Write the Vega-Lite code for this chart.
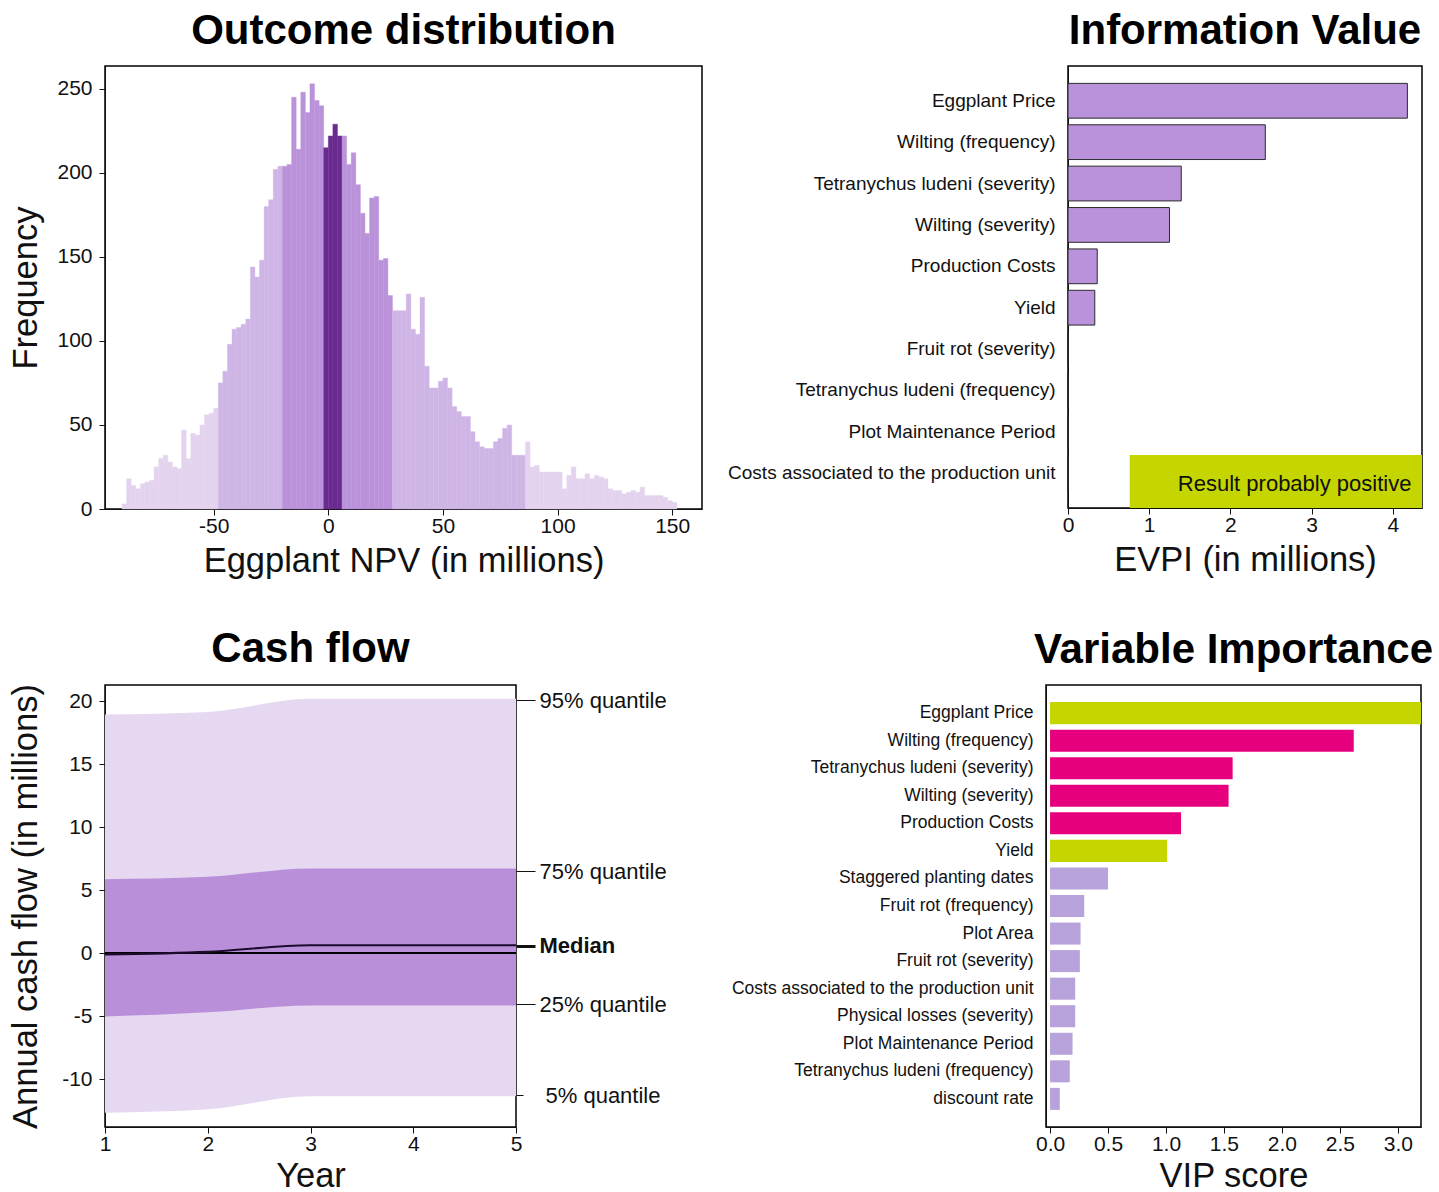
{
  "$schema": "https://vega.github.io/schema/vega-lite/v6.json",
  "padding": {"left": 7, "top": 9, "right": 0, "bottom": 0},
  "background": "white",
  "spacing": 47,
  "resolve": {"scale": {"fill": "independent", "stroke": "independent"}},
  "config": {
    "font": "Liberation Sans",
    "view": {"stroke": "black", "strokeWidth": 1.5},
    "axis": {"labelFont": "Liberation Sans", "titleFont": "Liberation Sans", "labelColor": "#111", "titleColor": "#111", "tickColor": "#111", "domainColor": "#111", "grid": false, "titleFontWeight": "normal", "labelFontSize": 21, "titleFontSize": 34.5, "tickSize": 6, "labelLimit": 500, "labelFlush": false, "labelOverlap": false},
    "title": {"font": "Liberation Sans", "fontSize": 42, "fontWeight": "bold", "color": "black", "anchor": "middle", "frame": "group", "baseline": "alphabetic", "offset": 13}
  },
  "vconcat": [
    {
      "spacing": 23,
      "resolve": {"scale": {"fill": "independent", "stroke": "independent"}},
      "hconcat": [
        {
          "width": 597,
          "height": 443,
          "title": {"text": "Outcome distribution"},
          "data": {"values": [
            {"lo":-90,"hi":-88,"n":3,"b":"tail"},{"lo":-88,"hi":-86,"n":18,"b":"tail"},{"lo":-86,"hi":-84,"n":14,"b":"tail"},{"lo":-84,"hi":-82,"n":12,"b":"tail"},{"lo":-82,"hi":-80,"n":15,"b":"tail"},{"lo":-80,"hi":-78,"n":16,"b":"tail"},{"lo":-78,"hi":-76,"n":17,"b":"tail"},{"lo":-76,"hi":-74,"n":25,"b":"tail"},{"lo":-74,"hi":-72,"n":30,"b":"tail"},{"lo":-72,"hi":-70,"n":32,"b":"tail"},{"lo":-70,"hi":-68,"n":28,"b":"tail"},{"lo":-68,"hi":-66,"n":25,"b":"tail"},{"lo":-66,"hi":-64,"n":24,"b":"tail"},{"lo":-64,"hi":-62,"n":47,"b":"tail"},{"lo":-62,"hi":-60,"n":30,"b":"tail"},{"lo":-60,"hi":-58,"n":45,"b":"tail"},{"lo":-58,"hi":-56,"n":44,"b":"tail"},{"lo":-56,"hi":-54,"n":50,"b":"tail"},{"lo":-54,"hi":-52,"n":56,"b":"tail"},{"lo":-52,"hi":-50,"n":57,"b":"tail"},{"lo":-50,"hi":-48,"n":60,"b":"tail"},
            {"lo":-48,"hi":-46,"n":75,"b":"outer"},{"lo":-46,"hi":-44,"n":82,"b":"outer"},{"lo":-44,"hi":-42,"n":98,"b":"outer"},{"lo":-42,"hi":-40,"n":107,"b":"outer"},{"lo":-40,"hi":-38,"n":108,"b":"outer"},{"lo":-38,"hi":-36,"n":110,"b":"outer"},{"lo":-36,"hi":-34,"n":113,"b":"outer"},{"lo":-34,"hi":-32,"n":144,"b":"outer"},{"lo":-32,"hi":-30,"n":138,"b":"outer"},{"lo":-30,"hi":-28,"n":148,"b":"outer"},{"lo":-28,"hi":-26,"n":180,"b":"outer"},{"lo":-26,"hi":-24,"n":184,"b":"outer"},{"lo":-24,"hi":-22,"n":202,"b":"outer"},{"lo":-22,"hi":-20,"n":204,"b":"outer"},
            {"lo":-20,"hi":-18,"n":204,"b":"inner"},{"lo":-18,"hi":-16,"n":205,"b":"inner"},{"lo":-16,"hi":-14,"n":245,"b":"inner"},{"lo":-14,"hi":-12,"n":214,"b":"inner"},{"lo":-12,"hi":-10,"n":248,"b":"inner"},{"lo":-10,"hi":-8,"n":236,"b":"inner"},{"lo":-8,"hi":-6,"n":253,"b":"inner"},{"lo":-6,"hi":-4,"n":243,"b":"inner"},{"lo":-4,"hi":-2,"n":240,"b":"inner"},
            {"lo":-2,"hi":0,"n":215,"b":"median"},{"lo":0,"hi":2,"n":222,"b":"median"},{"lo":2,"hi":4,"n":229,"b":"median"},{"lo":4,"hi":6,"n":222,"b":"median"},
            {"lo":6,"hi":8,"n":222,"b":"inner"},{"lo":8,"hi":10,"n":205,"b":"inner"},{"lo":10,"hi":12,"n":212,"b":"inner"},{"lo":12,"hi":14,"n":193,"b":"inner"},{"lo":14,"hi":16,"n":176,"b":"inner"},{"lo":16,"hi":18,"n":164,"b":"inner"},{"lo":18,"hi":20,"n":185,"b":"inner"},{"lo":20,"hi":22,"n":186,"b":"inner"},{"lo":22,"hi":24,"n":148,"b":"inner"},{"lo":24,"hi":26,"n":149,"b":"inner"},{"lo":26,"hi":28,"n":127,"b":"inner"},
            {"lo":28,"hi":30,"n":118,"b":"outer"},{"lo":30,"hi":32,"n":118,"b":"outer"},{"lo":32,"hi":34,"n":118,"b":"outer"},{"lo":34,"hi":36,"n":128,"b":"outer"},{"lo":36,"hi":38,"n":107,"b":"outer"},{"lo":38,"hi":40,"n":104,"b":"outer"},{"lo":40,"hi":42,"n":126,"b":"outer"},{"lo":42,"hi":44,"n":85,"b":"outer"},{"lo":44,"hi":46,"n":72,"b":"outer"},{"lo":46,"hi":48,"n":72,"b":"outer"},{"lo":48,"hi":50,"n":76,"b":"outer"},{"lo":50,"hi":52,"n":78,"b":"outer"},{"lo":52,"hi":54,"n":72,"b":"outer"},{"lo":54,"hi":56,"n":61,"b":"outer"},{"lo":56,"hi":58,"n":58,"b":"outer"},{"lo":58,"hi":60,"n":55,"b":"outer"},{"lo":60,"hi":62,"n":55,"b":"outer"},{"lo":62,"hi":64,"n":46,"b":"outer"},{"lo":64,"hi":66,"n":40,"b":"outer"},{"lo":66,"hi":68,"n":37,"b":"outer"},{"lo":68,"hi":70,"n":36,"b":"outer"},{"lo":70,"hi":72,"n":36,"b":"outer"},{"lo":72,"hi":74,"n":40,"b":"outer"},{"lo":74,"hi":76,"n":42,"b":"outer"},{"lo":76,"hi":78,"n":48,"b":"outer"},{"lo":78,"hi":80,"n":50,"b":"outer"},{"lo":80,"hi":82,"n":32,"b":"outer"},{"lo":82,"hi":84,"n":32,"b":"outer"},{"lo":84,"hi":86,"n":32,"b":"outer"},
            {"lo":86,"hi":88,"n":40,"b":"tail"},{"lo":88,"hi":90,"n":25,"b":"tail"},{"lo":90,"hi":92,"n":26,"b":"tail"},{"lo":92,"hi":94,"n":22,"b":"tail"},{"lo":94,"hi":96,"n":22,"b":"tail"},{"lo":96,"hi":98,"n":22,"b":"tail"},{"lo":98,"hi":100,"n":22,"b":"tail"},{"lo":100,"hi":102,"n":22,"b":"tail"},{"lo":102,"hi":104,"n":12,"b":"tail"},{"lo":104,"hi":106,"n":20,"b":"tail"},{"lo":106,"hi":108,"n":25,"b":"tail"},{"lo":108,"hi":110,"n":18,"b":"tail"},{"lo":110,"hi":112,"n":18,"b":"tail"},{"lo":112,"hi":114,"n":21,"b":"tail"},{"lo":114,"hi":116,"n":18,"b":"tail"},{"lo":116,"hi":118,"n":20,"b":"tail"},{"lo":118,"hi":120,"n":19,"b":"tail"},{"lo":120,"hi":122,"n":18,"b":"tail"},{"lo":122,"hi":124,"n":12,"b":"tail"},{"lo":124,"hi":126,"n":11,"b":"tail"},{"lo":126,"hi":128,"n":11,"b":"tail"},{"lo":128,"hi":130,"n":9,"b":"tail"},{"lo":130,"hi":132,"n":10,"b":"tail"},{"lo":132,"hi":134,"n":11,"b":"tail"},{"lo":134,"hi":136,"n":10,"b":"tail"},{"lo":136,"hi":138,"n":13,"b":"tail"},{"lo":138,"hi":140,"n":8,"b":"tail"},{"lo":140,"hi":142,"n":8,"b":"tail"},{"lo":142,"hi":144,"n":8,"b":"tail"},{"lo":144,"hi":146,"n":8,"b":"tail"},{"lo":146,"hi":148,"n":7,"b":"tail"},{"lo":148,"hi":150,"n":5,"b":"tail"},{"lo":150,"hi":152,"n":4,"b":"tail"}
          ]},
          "mark": {"type": "bar", "strokeWidth": 0.4},
          "encoding": {
            "x": {"field": "lo", "type": "quantitative", "scale": {"domain": [-97.4, 163], "nice": false, "zero": false},
                  "axis": {"values": [-50, 0, 50, 100, 150], "labelExpr": "'' + datum.value", "title": "Eggplant NPV (in millions)", "labelPadding": 0, "titlePadding": 8}},
            "x2": {"field": "hi"},
            "y": {"field": "n", "type": "quantitative", "stack": null, "scale": {"domain": [0, 263.6], "nice": false},
                  "axis": {"values": [0, 50, 100, 150, 200, 250], "title": "Frequency", "labelPadding": 7, "titlePadding": 13}},
            "y2": {"datum": 0},
            "fill": {"field": "b", "type": "nominal", "legend": null, "scale": {"domain": ["tail", "outer", "inner", "median"], "range": ["#E4D3EE", "#CFB5E6", "#BA92DA", "#6A2B91"]}},
            "stroke": {"field": "b", "type": "nominal", "legend": null, "scale": {"domain": ["tail", "outer", "inner", "median"], "range": ["#E4D3EE", "#CFB5E6", "#BA92DA", "#6A2B91"]}}
          }
        },
        {
          "width": 354,
          "height": 442,
          "title": {"text": "Information Value"},
          "resolve": {"scale": {"y": "independent"}},
          "layer": [
            {
              "data": {"values": [
                {"var": "Eggplant Price", "evpi": 4.18},
                {"var": "Wilting (frequency)", "evpi": 2.43},
                {"var": "Tetranychus ludeni (severity)", "evpi": 1.395},
                {"var": "Wilting (severity)", "evpi": 1.25},
                {"var": "Production Costs", "evpi": 0.36},
                {"var": "Yield", "evpi": 0.33},
                {"var": "Fruit rot (severity)", "evpi": 0},
                {"var": "Tetranychus ludeni (frequency)", "evpi": 0},
                {"var": "Plot Maintenance Period", "evpi": 0},
                {"var": "Costs associated to the production unit", "evpi": 0}
              ]},
              "mark": {"type": "bar", "fill": "#BA92DC", "stroke": "#2b2b2b", "strokeWidth": 1},
              "encoding": {
                "x": {"field": "evpi", "type": "quantitative", "scale": {"domain": [0, 4.36], "nice": false},
                      "axis": {"values": [0, 1, 2, 3, 4], "format": "d", "title": "EVPI (in millions)", "labelPadding": 0, "titlePadding": 8}},
                "y": {"field": "var", "type": "nominal", "sort": null, "scale": {"paddingInner": 0.16, "paddingOuter": 0.42},
                      "axis": {"title": null, "ticks": false, "labelPadding": 13, "labelFontSize": 19}}
              }
            },
            {
              "data": {"values": [{"label": "Result probably positive"}]},
              "mark": {"type": "rect", "fill": "#C5D500"},
              "encoding": {
                "x": {"datum": 0.76, "type": "quantitative"},
                "x2": {"datum": 4.36},
                "y": {"datum": 0, "type": "quantitative", "scale": {"domain": [0, 1], "nice": false}, "axis": null},
                "y2": {"datum": 0.12}
              }
            },
            {
              "data": {"values": [{"label": "Result probably positive"}]},
              "mark": {"type": "text", "align": "right", "baseline": "middle", "fontSize": 22, "color": "#111"},
              "encoding": {
                "x": {"datum": 4.23, "type": "quantitative"},
                "y": {"datum": 0.054, "type": "quantitative", "scale": {"domain": [0, 1], "nice": false}, "axis": null},
                "text": {"field": "label"}
              }
            }
          ]
        }
      ]
    },
    {
      "spacing": 63,
      "resolve": {"scale": {"fill": "independent", "stroke": "independent"}},
      "hconcat": [
        {
          "width": 411,
          "height": 442,
          "title": {"text": "Cash flow"},
          "data": {"values": [
            {"year": 1, "p5": -12.67, "p25": -5.04, "p50": -0.1, "p75": 5.86, "p95": 18.93},
            {"year": 2, "p5": -12.4, "p25": -4.7, "p50": 0.1, "p75": 6.05, "p95": 19.13},
            {"year": 3, "p5": -11.36, "p25": -4.15, "p50": 0.62, "p75": 6.72, "p95": 20.17},
            {"year": 4, "p5": -11.36, "p25": -4.15, "p50": 0.62, "p75": 6.72, "p95": 20.17},
            {"year": 5, "p5": -11.36, "p25": -4.15, "p50": 0.62, "p75": 6.72, "p95": 20.17}
          ]},
          "resolve": {"axis": {"y": "independent"}},
          "layer": [
            {
              "mark": {"type": "area", "interpolate": "monotone", "color": "#E5D8F0"},
              "encoding": {
                "x": {"field": "year", "type": "quantitative", "scale": {"domain": [1, 5], "nice": false},
                      "axis": {"values": [1, 2, 3, 4, 5], "format": "d", "title": "Year", "labelPadding": 0, "titlePadding": 5}},
                "y": {"field": "p5", "type": "quantitative", "scale": {"domain": [-13.8, 21.27], "nice": false, "zero": false},
                      "axis": {"values": [-10, -5, 0, 5, 10, 15, 20], "labelExpr": "'' + datum.value", "title": "Annual cash flow (in millions)", "labelPadding": 7, "titlePadding": 18}},
                "y2": {"field": "p95"}
              }
            },
            {
              "mark": {"type": "area", "interpolate": "monotone", "color": "#B98FDA"},
              "encoding": {
                "x": {"field": "year", "type": "quantitative"},
                "y": {"field": "p25", "type": "quantitative", "scale": {"domain": [-13.8, 21.27], "nice": false, "zero": false}, "axis": null},
                "y2": {"field": "p75"}
              }
            },
            {
              "mark": {"type": "rule", "color": "black", "strokeWidth": 1.5},
              "encoding": {
                "y": {"datum": 0, "type": "quantitative", "scale": {"domain": [-13.8, 21.27], "nice": false, "zero": false}, "axis": null}
              }
            },
            {
              "mark": {"type": "line", "interpolate": "monotone", "color": "#1d0b2e", "strokeWidth": 2.2},
              "encoding": {
                "x": {"field": "year", "type": "quantitative"},
                "y": {"field": "p50", "type": "quantitative", "scale": {"domain": [-13.8, 21.27], "nice": false, "zero": false},
                      "axis": {"orient": "right", "title": null, "values": [20.05, 6.5, 0.6, -4.06, -11.3], "labelFontSize": 22, "domain": false,
                               "labelExpr": "datum.value > 15 ? '95% quantile' : datum.value > 3 ? '75% quantile' : datum.value > -2 ? 'Median' : datum.value > -8 ? '25% quantile' : '5% quantile'",
                               "labelFontWeight": {"condition": {"test": "datum.value > -2 && datum.value < 3", "value": "bold"}, "value": "normal"},
                               "tickSize": {"condition": {"test": "datum.value < -8", "value": 7}, "value": 19},
                               "labelPadding": {"condition": {"test": "datum.value < -8", "value": 22}, "value": 4},
                               "tickWidth": {"condition": {"test": "datum.value > -2 && datum.value < 3", "value": 3}, "value": 1}}}
              }
            }
          ]
        },
        {
          "width": 375,
          "height": 442,
          "title": {"text": "Variable Importance"},
          "layer": [
            {
              "data": {"values": [
                {"var": "Eggplant Price", "vip": 3.25, "effect": "positive"},
                {"var": "Wilting (frequency)", "vip": 2.62, "effect": "negative"},
                {"var": "Tetranychus ludeni (severity)", "vip": 1.575, "effect": "negative"},
                {"var": "Wilting (severity)", "vip": 1.54, "effect": "negative"},
                {"var": "Production Costs", "vip": 1.13, "effect": "negative"},
                {"var": "Yield", "vip": 1.01, "effect": "positive"},
                {"var": "Staggered planting dates", "vip": 0.5, "effect": "below"},
                {"var": "Fruit rot (frequency)", "vip": 0.295, "effect": "below"},
                {"var": "Plot Area", "vip": 0.263, "effect": "below"},
                {"var": "Fruit rot (severity)", "vip": 0.257, "effect": "below"},
                {"var": "Costs associated to the production unit", "vip": 0.217, "effect": "below"},
                {"var": "Physical losses (severity)", "vip": 0.217, "effect": "below"},
                {"var": "Plot Maintenance Period", "vip": 0.194, "effect": "below"},
                {"var": "Tetranychus ludeni (frequency)", "vip": 0.17, "effect": "below"},
                {"var": "discount rate", "vip": 0.084, "effect": "below"}
              ]},
              "mark": {"type": "bar", "clip": true},
              "encoding": {
                "x": {"field": "vip", "type": "quantitative", "scale": {"domain": [-0.035, 3.2], "nice": false, "zero": false},
                      "axis": {"values": [0, 0.5, 1, 1.5, 2, 2.5, 3], "format": ".1f", "title": "VIP score", "labelPadding": 0, "titlePadding": 5}},
                "x2": {"datum": 0},
                "y": {"field": "var", "type": "nominal", "sort": null, "scale": {"paddingInner": 0.2, "paddingOuter": 0.62},
                      "axis": {"title": null, "ticks": false, "labelPadding": 13, "labelFontSize": 17.5}},
                "fill": {"field": "effect", "type": "nominal", "legend": null, "scale": {"domain": ["positive", "negative", "below"], "range": ["#C5D500", "#E6007E", "#B8A2DC"]}}
              }
            },
            {
              "mark": {"type": "rule", "color": "black", "strokeWidth": 1.5},
              "encoding": {"x": {"datum": 0.8, "type": "quantitative"}}
            }
          ]
        }
      ]
    }
  ]
}
